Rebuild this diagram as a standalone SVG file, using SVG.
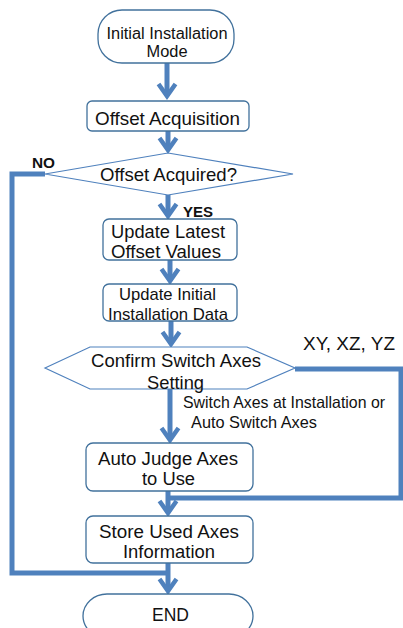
<svg xmlns="http://www.w3.org/2000/svg" width="403" height="628" viewBox="0 0 403 628">
  <defs>
    <style>
      .node { fill: #ffffff; stroke: #41719c; stroke-width: 1.3; }
      .thin { fill: #ffffff; stroke: #4f81bd; stroke-width: 1.2; }
      .lbl { font-family: "Liberation Sans", Arial, sans-serif; fill: #111111; text-anchor: middle; }
      .f19 { font-size: 19px; }
      .f18 { font-size: 17.5px; }
      .f17 { font-size: 17px; }
      .f16 { font-size: 16px; }
      .note { font-size: 16.5px; text-anchor: start; }
      .bold { font-size: 14px; font-weight: bold; text-anchor: start; }
      .wire { fill: none; stroke: #4f81bd; stroke-width: 5; stroke-linejoin: miter; }
      .flow { fill: none; stroke: #4f81bd; stroke-width: 5; marker-end: url(#open); }
    </style>
    <marker id="open" markerUnits="userSpaceOnUse" viewBox="-16 -12 20 24" refX="0" refY="0" markerWidth="20" markerHeight="24" orient="auto" style="overflow:visible">
      <path d="M-12,-8.5 L0,0 L-12,8.5" fill="none" stroke="#4f81bd" stroke-width="4.5" stroke-linejoin="miter"/>
    </marker>
  </defs>

  <!-- connectors -->
  <g id="connectors">
    <path class="flow" d="M167,63 V96"/>
    <path class="flow" d="M168,131 V150"/>
    <path class="flow" d="M168,195 V216"/>
    <path class="flow" d="M170,260 V281"/>
    <path class="flow" d="M171,321 V344"/>
    <path class="flow" d="M170,389 V440"/>
    <path class="flow" d="M168,491 V513"/>
    <path class="flow" d="M168,563 V591"/>
    <path class="wire" d="M45,174 H12 V573 H168"/>
    <path class="wire" d="M295,369 H401 V498 H170"/>
  </g>

  <g id="start">
    <rect class="node" x="98" y="10" width="136" height="53" rx="24" ry="24"/>
    <text class="lbl f16" x="167" y="39" textLength="121" lengthAdjust="spacingAndGlyphs">Initial Installation</text>
    <text class="lbl f16" x="167" y="57" textLength="41" lengthAdjust="spacingAndGlyphs">Mode</text>
  </g>

  <g id="offset-acquisition">
    <rect class="node" x="87" y="101" width="162" height="30" rx="5"/>
    <text class="lbl f19" x="167.5" y="124.5" textLength="145" lengthAdjust="spacingAndGlyphs">Offset Acquisition</text>
  </g>

  <g id="offset-acquired">
    <polygon class="thin" points="168,153 293,174 168,195 45,174"/>
    <text class="lbl f19" x="168.5" y="181" textLength="137" lengthAdjust="spacingAndGlyphs">Offset Acquired?</text>
    <text class="lbl bold" x="32" y="168" textLength="23" lengthAdjust="spacingAndGlyphs">NO</text>
    <text class="lbl bold" x="183" y="217" textLength="30" lengthAdjust="spacingAndGlyphs">YES</text>
  </g>

  <g id="update-latest">
    <rect class="node" x="103" y="219" width="134" height="41" rx="6"/>
    <text class="lbl f18" x="168" y="238" textLength="114" lengthAdjust="spacingAndGlyphs">Update Latest</text>
    <text class="lbl f18" x="166" y="258" textLength="110" lengthAdjust="spacingAndGlyphs">Offset Values</text>
  </g>

  <g id="update-initial">
    <rect class="node" x="103" y="284" width="134" height="37" rx="6"/>
    <text class="lbl f17" x="167.5" y="300" textLength="97" lengthAdjust="spacingAndGlyphs">Update Initial</text>
    <text class="lbl f17" x="168" y="320" textLength="120" lengthAdjust="spacingAndGlyphs">Installation Data</text>
  </g>

  <g id="confirm-switch">
    <polygon class="thin" points="45,368 90,347 247,347 295,368 247,389 90,389"/>
    <text class="lbl f19" x="176" y="367" textLength="170" lengthAdjust="spacingAndGlyphs">Confirm Switch Axes</text>
    <text class="lbl f19" x="175.5" y="389" textLength="57" lengthAdjust="spacingAndGlyphs">Setting</text>
    <text class="lbl f19" x="349" y="350" textLength="92" lengthAdjust="spacingAndGlyphs">XY, XZ, YZ</text>
    <text class="lbl note" x="183" y="408" textLength="202" lengthAdjust="spacingAndGlyphs">Switch Axes at Installation or</text>
    <text class="lbl note" x="191" y="428" textLength="126" lengthAdjust="spacingAndGlyphs">Auto Switch Axes</text>
  </g>

  <g id="auto-judge">
    <rect class="node" x="86" y="443" width="167" height="48" rx="7"/>
    <text class="lbl f18" x="168" y="465" textLength="140" lengthAdjust="spacingAndGlyphs">Auto Judge Axes</text>
    <text class="lbl f18" x="168.5" y="485" textLength="53" lengthAdjust="spacingAndGlyphs">to Use</text>
  </g>

  <g id="store-axes">
    <rect class="node" x="86" y="516" width="167" height="47" rx="7"/>
    <text class="lbl f18" x="169" y="538" textLength="140" lengthAdjust="spacingAndGlyphs">Store Used Axes</text>
    <text class="lbl f18" x="169" y="558" textLength="92" lengthAdjust="spacingAndGlyphs">Information</text>
  </g>

  <g id="end">
    <rect class="node" x="83" y="594" width="170" height="44" rx="24" ry="22"/>
    <text class="lbl f19" x="170.5" y="621" textLength="37" lengthAdjust="spacingAndGlyphs">END</text>
  </g>
</svg>
